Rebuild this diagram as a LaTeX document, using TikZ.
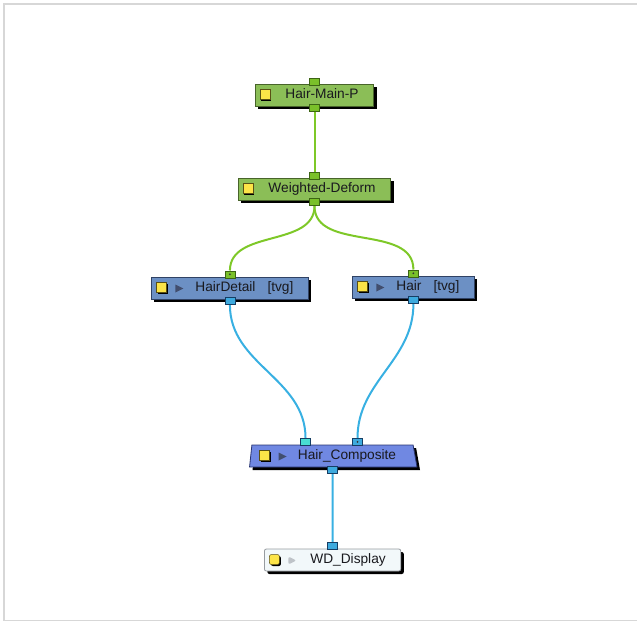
\documentclass[tikz,border=0pt]{standalone}
\usepackage{fontspec}
\setmainfont{Liberation Sans}
\usepackage{tikz}
\usetikzlibrary{positioning, shapes.geometric, shadows, backgrounds}
\definecolor{framegray}{RGB}{215, 215, 215}
\definecolor{nodetext}{RGB}{25, 25, 30}
\definecolor{pegfill}{RGB}{139, 190, 87}
\definecolor{pegline}{RGB}{72, 100, 42}
\definecolor{tvgfill}{RGB}{108, 144, 196}
\definecolor{tvgline}{RGB}{48, 66, 100}
\definecolor{compfill}{RGB}{112, 136, 226}
\definecolor{compline}{RGB}{40, 52, 112}
\definecolor{dispfill}{RGB}{242, 248, 250}
\definecolor{displine}{RGB}{150, 155, 160}
\definecolor{keyyellow}{RGB}{252, 228, 72}
\definecolor{keyline}{RGB}{90, 80, 20}
\definecolor{playblue}{RGB}{66, 78, 110}
\definecolor{playgray}{RGB}{190, 195, 200}
\definecolor{portgreen}{RGB}{122, 192, 42}
\definecolor{portgreenline}{RGB}{60, 100, 20}
\definecolor{portblue}{RGB}{62, 170, 222}
\definecolor{portblueline}{RGB}{22, 62, 100}
\definecolor{portcyan}{RGB}{72, 222, 210}
\definecolor{cablegreen}{RGB}{126, 200, 40}
\definecolor{cableblue}{RGB}{56, 176, 226}
% icons drawn inside the node boxes
\newcommand{\keyicon}[1]{%
    \fill[black] ([xshift=#1+1.5pt, yshift=-6pt]path picture bounding box.west) rectangle ++(10pt,10pt);
    \filldraw[draw=keyline, fill=keyyellow, line width=0.5pt] ([xshift=#1, yshift=-4.5pt]path picture bounding box.west) rectangle ++(10pt,10pt);}
\newcommand{\playicon}[2]{%
    \fill[#2] ([xshift=#1, yshift=3.5pt]path picture bounding box.west) -- ++(8pt,-4pt) -- ++(-8pt,-4pt) -- cycle;}
\newcommand{\tvggap}{\hspace*{12pt}}
\tikzset{
    base/.style={draw, line width=0.8pt, rectangle, anchor=west, minimum height=22pt, inner xsep=15pt, inner ysep=0pt,
        text height=9.5pt, text depth=2.5pt, text=nodetext, font=\fontsize{13.7}{15}\selectfont,
        drop shadow={shadow xshift=3pt, shadow yshift=-3pt, opacity=1, fill=black}},
    pegnode/.style={base, anchor=center, fill=pegfill, draw=pegline, path picture={\keyicon{4.5pt}}},
    tvgnode/.style={base, fill=tvgfill, draw=tvgline, path picture={\keyicon{5pt}\playicon{24pt}{playblue}}},
    compnode/.style={base, anchor=center, trapezium, trapezium left angle=79, trapezium right angle=72,
        trapezium stretches body=true, inner xsep=17pt,
        fill=compfill, draw=compline, path picture={\keyicon{10pt}\playicon{29pt}{playblue}}},
    dispnode/.style={base, rounded corners=2pt, fill=dispfill, draw=displine, path picture={\keyicon{5pt}\playicon{24pt}{playgray}}},
    port/.style={rectangle, draw=#1, line width=0.6pt, minimum width=10pt, minimum height=7pt, inner sep=0pt},
    greenport/.style={port=portgreenline, fill=portgreen},
    blueport/.style={port=portblueline, fill=portblue},
    cyanport/.style={port=portblueline, fill=portcyan},
    linked/.style={path picture={\fill[black!80] (path picture bounding box.center) circle (1pt);}},
    greencable/.style={draw=cablegreen, line width=2pt},
    bluecable/.style={draw=cableblue, line width=2pt}
}
\begin{document}
\begin{tikzpicture}[x=1pt, y=1pt]
\useasboundingbox (0,0) rectangle (637,-622);
\draw[framegray, line width=1.7pt] (637,-4) -- (4,-4) -- (4,-620.5) -- (637,-620.5);

% Nodes
\node[pegnode] (mainp) at (314.5,-95) {\hspace*{15pt}Hair-Main-P};
\node[pegnode] (deform) at (314.5,-189) {\hspace*{15pt}Weighted-Deform};
\node[tvgnode] (detail) at (151,-288) {\hspace*{29pt}HairDetail\tvggap[tvg]};
\node[tvgnode] (hair) at (352,-287) {\hspace*{29pt}Hair\tvggap[tvg]};
\node[compnode] (comp) at (332.5,-456) {\hspace*{29pt}Hair\_Composite};
\node[dispnode] (display) at (264,-560) {\hspace*{31pt}WD\_Display};

% Ports
\node[greenport, anchor=south] (mainp-in) at ([yshift=-1.5pt]mainp.north) {};
\node[greenport, anchor=north] (mainp-out) at ([yshift=2pt]mainp.south) {};
\node[greenport, anchor=south] (deform-in) at ([yshift=-1.5pt]deform.north) {};
\node[greenport, anchor=north] (deform-out) at ([yshift=2pt]deform.south) {};
\node[greenport, linked, anchor=south] (detail-in) at ([yshift=-1.5pt]detail.north) {};
\node[blueport, anchor=north] (detail-out) at ([yshift=2pt]detail.south) {};
\node[greenport, linked, anchor=south] (hair-in) at ([yshift=-1.5pt]hair.north) {};
\node[blueport, anchor=north] (hair-out) at ([yshift=2pt]hair.south) {};
\node[cyanport, anchor=south] (comp-in1) at ([xshift=-27pt, yshift=-1pt]comp.north) {};
\node[blueport, linked, anchor=south] (comp-in2) at ([xshift=25pt, yshift=-1pt]comp.north) {};
\node[blueport, anchor=north] (comp-out) at ([yshift=1pt]comp.south) {};
\node[blueport, anchor=south] (display-in) at ([yshift=-1pt]display.north) {};

% Cables
\begin{scope}[on background layer]
    \draw[greencable] (mainp-out) -- (deform-in);
    \draw[greencable] (deform-out.south) to[out=-90, in=90] (detail-in.north);
    \draw[greencable] (deform-out.south) to[out=-90, in=90] (hair-in.north);
    \draw[bluecable] (detail-out.south) to[out=-90, in=90] (comp-in1.north);
    \draw[bluecable] (hair-out.south) to[out=-90, in=90] (comp-in2.north);
    \draw[bluecable] (comp-out) -- (display-in);
\end{scope}

\end{tikzpicture}
\end{document}
